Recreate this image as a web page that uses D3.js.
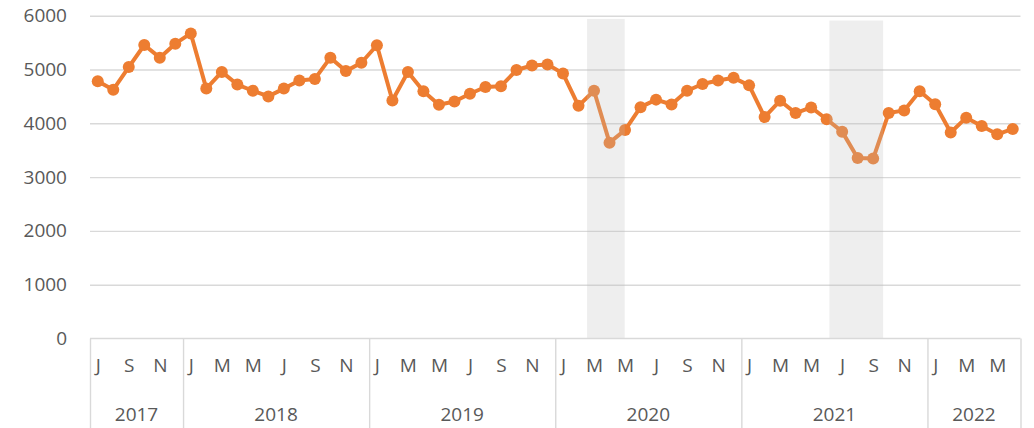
<!DOCTYPE html>
<html>
<head>
<meta charset="utf-8">
<script src="https://cdn.jsdelivr.net/npm/d3@7"></script>
<style>
  body { margin: 0; background: #fff; }
  text { font-family: "Open Sans", sans-serif; fill: #595959; }
</style>
</head>
<body>
<script>
var W = 1034, H = 428;

// data
var years = ["2017", "2018", "2019", "2020", "2021", "2022"];
var monthsInYear = [6, 12, 12, 12, 12, 6];
var firstMonth = 6; // July 2017
var monthLetters = ["J", "F", "M", "A", "M", "J", "J", "A", "S", "O", "N", "D"];
var values = [
  4780, 4625, 5045, 5455, 5220, 5480,
  5670, 4645, 4955, 4720, 4605, 4500, 4645, 4795, 4825, 5220, 4970, 5125,
  5450, 4425, 4955, 4595, 4345, 4405, 4550, 4675, 4690, 4990, 5075, 5095,
  4925, 4325, 4605, 3640, 3875, 4300, 4440, 4350, 4605, 4730, 4795, 4845,
  4705, 4115, 4420, 4190, 4295, 4075, 3845, 3355, 3345, 4190, 4240, 4595,
  4355, 3830, 4105, 3950, 3795, 3895
];
var yTicks = [0, 1000, 2000, 3000, 4000, 5000, 6000];
// shaded periods, in months from Jul 2017
var shadeFrom = [32.05, 47.68];
var shadeTo = [34.48, 51.14];
var shadeTop = [5940, 5910];

// categories
var cats = [];
var m = firstMonth;
years.forEach(function(yr, i) {
  for (var k = 0; k < monthsInYear[i]; k++) {
    cats.push({ year: yr, month: m, letter: monthLetters[m] });
    m = (m + 1) % 12;
  }
  if (i == 0) m = 0;
});

var plotLeft = 90, plotRight = 1020.5, plotTop = 15.7, plotBottom = 338.5;

var svg = d3.select("body").append("svg")
    .attr("width", W)
    .attr("height", H);

var x = d3.scaleLinear().domain([0, cats.length]).range([plotLeft, plotRight]);
var y = d3.scaleLinear().domain([0, 6000]).range([plotBottom, plotTop]);

//gridlines
svg.append("g")
    .attr("transform", `translate(${plotLeft},0)`)
    .call(d3.axisLeft(y).tickValues(yTicks.slice(1)).tickSize(-(plotRight - plotLeft)).tickFormat(""))
    .call(function(g) {
      g.select(".domain").remove();
      g.selectAll("line").attr("stroke", "#d9d9d9").attr("stroke-width", 1.4);
    });

//y labels
svg.append("g")
    .attr("transform", `translate(${plotLeft - 23},0)`)
    .call(d3.axisLeft(y).tickValues(yTicks).tickSize(0).tickPadding(0).tickFormat(d3.format("d")))
    .call(function(g) {
      g.select(".domain").remove();
      g.selectAll("text").attr("font-size", 19).attr("fill", "#595959")
        .style("font-family", "'Open Sans', sans-serif");
    });

//line
var line = d3.line()
    .x(function(d, i) { return x(i + 0.5); })
    .y(function(d) { return y(d); });

svg.append("path")
    .datum(values)
    .attr("fill", "none")
    .attr("stroke", "#ed7d31")
    .attr("stroke-width", 4)
    .attr("stroke-linejoin", "round")
    .attr("d", line);

svg.selectAll(".dot").data(values).enter().append("circle")
    .attr("class", "dot")
    .attr("cx", function(d, i) { return x(i + 0.5); })
    .attr("cy", function(d) { return y(d); })
    .attr("r", 6)
    .attr("fill", "#ed7d31");

//shading on top
svg.selectAll(".shade").data(shadeFrom).enter().append("rect")
    .attr("class", "shade")
    .attr("x", function(d) { return x(d); })
    .attr("width", function(d, i) { return x(shadeTo[i]) - x(d); })
    .attr("y", function(d, i) { return y(shadeTop[i]); })
    .attr("height", function(d, i) { return plotBottom - y(shadeTop[i]); })
    .attr("fill", "#bcbcbc")
    .attr("opacity", 0.25);

//x axis
svg.append("line")
    .attr("x1", plotLeft).attr("x2", plotRight)
    .attr("y1", plotBottom).attr("y2", plotBottom)
    .attr("stroke", "#d9d9d9").attr("stroke-width", 1.4);

var labelIdx = d3.range(cats.length).filter(function(i) { return cats[i].month % 2 == 0; });
svg.append("g")
    .attr("transform", `translate(0,${plotBottom})`)
    .call(d3.axisBottom(x).tickValues(labelIdx.map(function(i) { return i + 0.5; }))
      .tickSize(0).tickPadding(20)
      .tickFormat(function(d) { return cats[Math.floor(d)].letter; }))
    .call(function(g) {
      g.select(".domain").remove();
      g.selectAll("text").attr("font-size", 19).attr("fill", "#595959")
        .style("font-family", "'Open Sans', sans-serif");
    });

//year separators
var bounds = [0];
monthsInYear.forEach(function(n, i) { bounds.push(bounds[i] + n); });
svg.append("g")
    .attr("transform", `translate(0,${plotBottom})`)
    .call(d3.axisBottom(x).tickValues(bounds).tickSize(H - plotBottom).tickFormat(""))
    .call(function(g) {
      g.select(".domain").remove();
      g.selectAll("line").attr("stroke", "#d9d9d9").attr("stroke-width", 1.4);
    });

svg.selectAll(".year").data(years).enter().append("text")
    .attr("class", "year")
    .attr("x", function(d, i) { return x((bounds[i] + bounds[i + 1]) / 2); })
    .attr("y", 414)
    .attr("dy", "0.35em")
    .attr("text-anchor", "middle")
    .attr("font-size", 19)
    .text(function(d) { return d; });
</script>
</body>
</html>
